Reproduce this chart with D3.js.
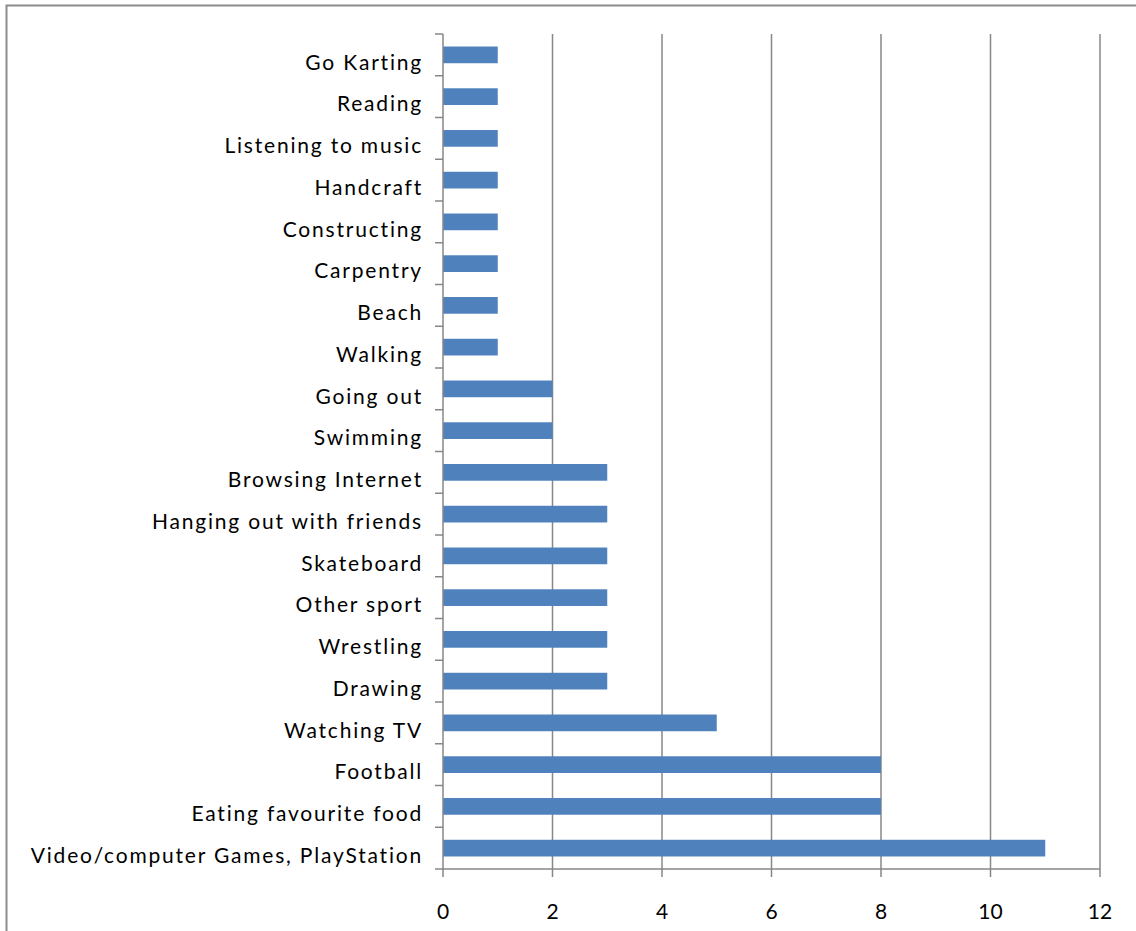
<!DOCTYPE html>
<html>
<head>
<meta charset="utf-8">
<script src="https://cdn.jsdelivr.net/npm/d3@7"></script>
<style>
  body { margin: 0; background: #fff; }
  svg { display: block; }
  text { font-family: Lato, "Open Sans", sans-serif; fill: #000; }
</style>
</head>
<body>
<div id="chart"></div>
<script>
var activities = ["Go Karting", "Reading", "Listening to music", "Handcraft", "Constructing",
  "Carpentry", "Beach", "Walking", "Going out", "Swimming", "Browsing Internet",
  "Hanging out with friends", "Skateboard", "Other sport", "Wrestling", "Drawing",
  "Watching TV", "Football", "Eating favourite food", "Video/computer Games, PlayStation"];
var counts = [1, 1, 1, 1, 1, 1, 1, 1, 2, 2, 3, 3, 3, 3, 3, 3, 5, 8, 8, 11];
var xTicks = [0, 2, 4, 6, 8, 10, 12];

var W = 1136, H = 931;
var margin = {top: 34, right: 36, bottom: 62, left: 443};
var width = W - margin.left - margin.right,
    height = H - margin.top - margin.bottom;
var gridColor = "#878787";

var svg = d3.select("#chart").append("svg")
    .attr("width", W)
    .attr("height", H);

// chart area border (runs off the right and bottom edges)
svg.append("rect")
    .attr("x", 6.5).attr("y", 5.5)
    .attr("width", W + 20).attr("height", H + 20)
    .attr("fill", "none")
    .attr("stroke", "#8c8c8c")
    .attr("stroke-width", 2);

var g = svg.append("g")
    .attr("transform", `translate(${margin.left},${margin.top})`);

var x = d3.scaleLinear()
    .domain([0, 12])
    .range([0, width]);

var y = d3.scaleBand()
    .domain(activities)
    .range([0, height])
    .paddingInner(0.6)
    .paddingOuter(0.3);

// vertical gridlines, extended below the axis as tick marks
g.append("g")
    .attr("class", "grid")
  .selectAll("line")
    .data(xTicks.slice(1))
  .enter().append("line")
    .attr("x1", d => x(d)).attr("x2", d => x(d))
    .attr("y1", 0).attr("y2", height + 8)
    .attr("stroke", gridColor)
    .attr("stroke-width", 1.5);

g.append("g")
    .attr("class", "bars")
  .selectAll("rect")
    .data(activities)
  .enter().append("rect")
    .attr("x", x(0))
    .attr("y", d => y(d))
    .attr("width", (d, i) => x(counts[i]) - x(0))
    .attr("height", y.bandwidth())
    .attr("fill", "#4f81bd");

// y axis: line plus ticks at category boundaries
var step = y.step();
var bounds = d3.range(activities.length + 1).map(i => y(activities[0]) - step * 0.3 + i * step);
var yAxis = g.append("g").attr("class", "axis axis-y");
yAxis.append("line")
    .attr("x1", 0).attr("x2", 0)
    .attr("y1", 0).attr("y2", height + 8)
    .attr("stroke", gridColor).attr("stroke-width", 1.5);
yAxis.selectAll(".tick")
    .data(bounds)
  .enter().append("line")
    .attr("x1", -8).attr("x2", 0)
    .attr("y1", d => d).attr("y2", d => d)
    .attr("stroke", gridColor).attr("stroke-width", 1.5);
yAxis.selectAll("text")
    .data(activities)
  .enter().append("text")
    .attr("x", -20)
    .attr("y", d => y(d) + y.bandwidth() / 2 + 8)
    .attr("text-anchor", "end")
    .attr("dy", "0.32em")
    .style("font-size", "21px")
    .style("letter-spacing", "1.8px")
    .text(d => d);

// x axis
var xAxis = g.append("g").attr("class", "axis axis-x");
xAxis.append("line")
    .attr("x1", 0).attr("x2", width)
    .attr("y1", height).attr("y2", height)
    .attr("stroke", gridColor).attr("stroke-width", 1.5);
xAxis.selectAll("text")
    .data(xTicks)
  .enter().append("text")
    .attr("x", d => x(d))
    .attr("y", height + 43)
    .attr("text-anchor", "middle")
    .attr("dy", "0.32em")
    .style("font-size", "21px")
    .text(d => d);
</script>
</body>
</html>
